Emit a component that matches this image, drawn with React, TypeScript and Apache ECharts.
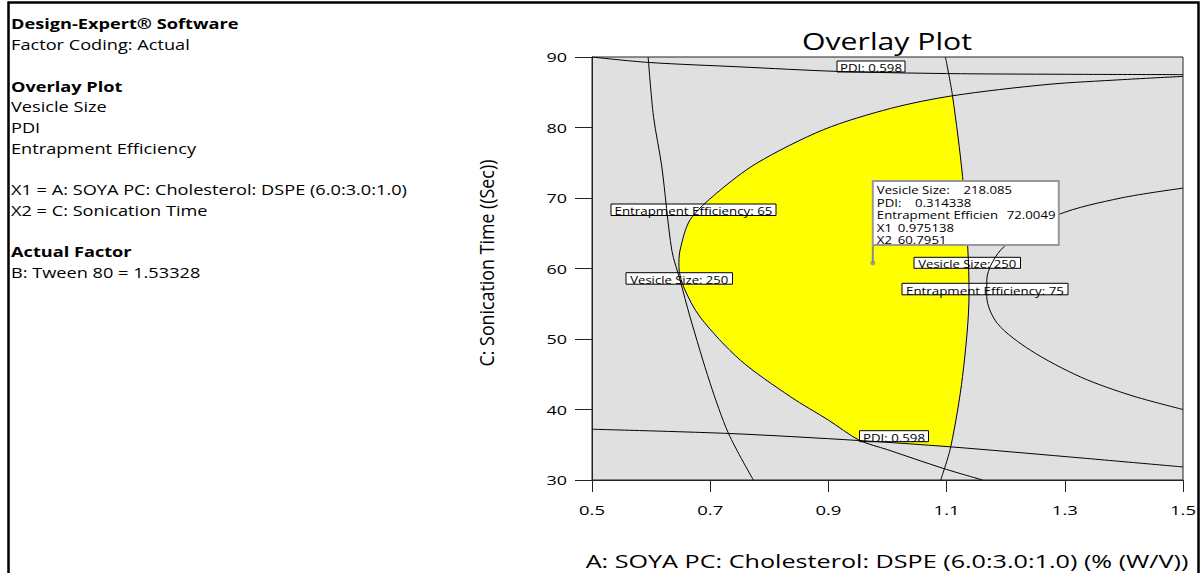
import React, { useEffect, useRef } from "react";
import * as echarts from "echarts";

// ---- data ----
const xTickValues = [0.5, 0.7, 0.9, 1.1, 1.3, 1.5];
const xTickLabels = ["0.5", "0.7", "0.9", "1.1", "1.3", "1.5"];
const yTickValues = [30, 40, 50, 60, 70, 80, 90];
const yTickLabels = ["30", "40", "50", "60", "70", "80", "90"];
const pdiTopContour = [[0.5, 90], [0.595, 89.23], [0.75, 88.6], [0.915, 87.96], [1.1, 87.65], [1.3, 87.55], [1.5, 87.5]];
const pdiBottomContour = [[0.5, 37.2], [0.731, 36.6], [0.952, 35.6], [1.107, 34.7], [1.304, 33.3], [1.5, 31.85]];
const vesicleLeftContour = [[0.595, 90], [0.604, 81.6], [0.618, 74.5], [0.635, 62.6], [0.649, 58.35], [0.666, 53.1], [0.7, 43.7], [0.731, 36.6], [0.773, 30]];
const vesicleRightContour = [[1.098, 90], [1.11, 84.5], [1.127, 73.05], [1.136, 62.6], [1.138, 56.5], [1.127, 44.7], [1.107, 34.7], [1.09, 30]];
const ee65Contour = [[1.5, 87.25], [1.4, 86.8], [1.27, 86.1], [1.11, 84.5], [1.005, 82.7], [0.892, 79.7], [0.779, 74.95], [0.711, 70.7], [0.666, 66.9], [0.649, 62.6], [0.647, 60.3], [0.655, 57.4], [0.683, 53.1], [0.751, 47.0], [0.836, 41.8], [0.9, 38.5], [0.952, 35.65], [1.0, 34.3], [1.096, 31.6], [1.161, 30]];
const ee75Contour = [[1.5, 71.4], [1.395, 70.0], [1.288, 67.6], [1.197, 63.1], [1.168, 58.35], [1.168, 56.0], [1.186, 52.2], [1.242, 48.4], [1.327, 44.6], [1.412, 42.0], [1.5, 40.0]];
const feasibleRegion = [[1.11, 84.5], [1.005, 82.7], [0.892, 79.7], [0.779, 74.95], [0.711, 70.7], [0.666, 66.9], [0.649, 62.6], [0.647, 60.3], [0.655, 57.4], [0.683, 53.1], [0.751, 47.0], [0.836, 41.8], [0.9, 38.5], [0.952, 35.65], [1.107, 34.7], [1.127, 44.7], [1.138, 56.5], [1.136, 62.6], [1.127, 73.05]];
const flagPoint = [0.975138, 60.7951];
const flagLabels = ["Vesicle Size:", "PDI:", "Entrapment Efficien", "X1", "X2"];
const flagValues = ["218.085", "0.314338", "72.0049", "0.975138", "60.7951"];
const contourLabelTexts = ["PDI: 0.598", "PDI: 0.598", "Entrapment Efficiency: 65", "Vesicle Size: 250", "Vesicle Size: 250", "Entrapment Efficiency: 75"];
const infoLines = ["Design-Expert® Software", "Factor Coding: Actual", "", "Overlay Plot", "Vesicle Size", "PDI", "Entrapment Efficiency", "", "X1 = A: SOYA PC: Cholesterol: DSPE (6.0:3.0:1.0)", "X2 = C: Sonication Time", "", "Actual Factor", "B: Tween 80 = 1.53328"];
const boldInfo = [0, 3, 11];
const titleText = "Overlay Plot";
const xAxisName = "A: SOYA PC: Cholesterol: DSPE (6.0:3.0:1.0) (% (W/V))";
const yAxisName = "C: Sonication Time ((Sec))";

// ---- layout (pixels) ----
const contourLabelBoxes = [
  [837, 61, 68, 11],
  [859.5, 430.7, 69, 11],
  [611, 204, 165, 11.5],
  [626, 272.7, 106.5, 11.5],
  [914, 257.3, 106.5, 11],
  [902, 283.3, 166, 11.5],
];
const contourLabelTextWidths = [62, 62, 158, 98, 98, 158];
const flagValueOffsets = [90.6, 42.3, 134, 25, 25];

const FAMILY = "Open Sans";
const FONT = "'Open Sans', 'Noto Sans', sans-serif";

let measureCtx: CanvasRenderingContext2D | null = null;
function measure(text: string, size: number, weight = "normal") {
  if (!measureCtx) measureCtx = document.createElement("canvas").getContext("2d");
  if (!measureCtx) return text.length * size * 0.55;
  measureCtx.font = `${weight} ${size}px "${FAMILY}"`;
  return measureCtx.measureText(text).width || text.length * size * 0.55;
}

export default function App() {
  const ref = useRef<HTMLDivElement>(null);
  useEffect(() => {
    if (!ref.current) return;
    const chart = echarts.init(ref.current, null, { renderer: "svg" });
    const contourLine = (data: number[][]) => ({
      type: "line",
      data,
      showSymbol: false,
      symbol: "none",
      smooth: 0.3,
      silent: true,
      z: 4,
      lineStyle: { color: "#000", width: 1 },
    });
    chart.setOption({
      animation: false,
      grid: {
        left: 592,
        top: 57,
        width: 591,
        height: 423,
        show: true,
        backgroundColor: "#e0e0e0",
        borderColor: "#222",
        borderWidth: 1,
      },
      xAxis: {
        type: "value",
        min: 0.5,
        max: 1.5,
        interval: 0.2,
        axisLine: { lineStyle: { color: "#222", width: 1 } },
        axisTick: { length: 12, lineStyle: { color: "#222" } },
        axisLabel: { show: false },
        splitLine: { show: false },
      },
      yAxis: {
        type: "value",
        min: 30,
        max: 90,
        interval: 10,
        axisLine: { lineStyle: { color: "#222", width: 1 } },
        axisTick: { length: 17, lineStyle: { color: "#222" } },
        axisLabel: { show: false },
        splitLine: { show: false },
      },
      series: [
        {
          type: "custom",
          z: 1,
          silent: true,
          data: [[1, 60]],
          renderItem: (params: any, api: any) => ({
            type: "polygon",
            shape: { points: feasibleRegion.map((p) => api.coord(p)) },
            style: { fill: "#ffff00", stroke: "none" },
          }),
        },
        contourLine(pdiTopContour),
        contourLine(pdiBottomContour),
        contourLine(vesicleLeftContour),
        contourLine(vesicleRightContour),
        contourLine(ee65Contour),
        contourLine(ee75Contour),
        {
          type: "scatter",
          data: [flagPoint],
          symbolSize: 5,
          z: 10,
          itemStyle: { color: "#8a8a8a" },
          silent: true,
        },
      ],
    });

    const toPx = (v: number[]) => chart.convertToPixel({ gridIndex: 0 }, v) as number[];
    const p = toPx(flagPoint);
    const boxW = 186;
    const boxH = 64;
    const boxX = p[0];
    const boxY = p[1] - 18 - boxH;

    const txt = (x: number, y: number, text: string, size: number, align: string, sx: number, extra: any = {}) => ({
      type: "text",
      x,
      y,
      scaleX: sx,
      z: extra.z ?? 5,
      rotation: extra.rotation ?? 0,
      scaleY: extra.scaleY ?? 1,
      style: {
        text,
        fontSize: size,
        fontWeight: extra.weight ?? "normal",
        fill: "#000",
        fontFamily: FONT,
        textAlign: align,
        textVerticalAlign: "middle",
      },
    });

    const graphics: any[] = [];
    // outer frame
    graphics.push({ type: "rect", z: 0, shape: { x: 8.5, y: 2.5, width: 1190, height: 620 }, style: { fill: "none", stroke: "#000", lineWidth: 2.5 } });
    // info panel
    const infoScale = 396 / measure(infoLines[8], 14);
    infoLines.forEach((t, i) => {
      if (!t) return;
      const bold = boldInfo.includes(i);
      graphics.push(txt(11, 24.3 + i * 20.7, t, 14, "left", infoScale, { weight: bold ? "bold" : "normal" }));
    });
    // title
    graphics.push(txt(887, 41, titleText, 23, "center", 170 / measure(titleText, 23)));
    // axis names
    graphics.push(txt(887, 561, xAxisName, 16.5, "center", 603 / measure(xAxisName, 16.5), { scaleY: 1.05 }));
    graphics.push(txt(486, 263, yAxisName, 17, "center", 207 / measure(yAxisName, 17), { rotation: Math.PI / 2, scaleY: 1.15 }));
    // tick labels
    const xLabScale = 26 / measure("0.5", 13.5);
    xTickValues.forEach((v, i) => {
      const q = toPx([v, 30]);
      graphics.push(txt(q[0], 510, xTickLabels[i], 13.5, "center", xLabScale));
    });
    const yLabScale = 20.5 / measure("80", 13.5);
    yTickValues.forEach((v, i) => {
      const q = toPx([0.5, v]);
      graphics.push(txt(567, q[1], yTickLabels[i], 13.5, "right", yLabScale));
    });
    // contour labels
    contourLabelTexts.forEach((t, i) => {
      const [x, y, w, h] = contourLabelBoxes[i];
      graphics.push({ type: "rect", z: 2, shape: { x, y, width: w, height: h }, style: { fill: "#fff", stroke: "#000", lineWidth: 1 } });
      graphics.push(txt(x + w / 2, y + h / 2 + 1.5, t, 11, "center", contourLabelTextWidths[i] / measure(t, 11), { z: 2 }));
    });
    // flag annotation
    graphics.push({ type: "line", z: 20, shape: { x1: p[0], y1: boxY + boxH, x2: p[0], y2: p[1] }, style: { stroke: "#8a8a8a", lineWidth: 2 } });
    graphics.push({ type: "rect", z: 20, shape: { x: boxX, y: boxY, width: boxW, height: boxH }, style: { fill: "#fff", stroke: "#999", lineWidth: 2 } });
    const flagScale = 73 / measure(flagLabels[0], 10.5);
    flagLabels.forEach((t, i) => {
      const yy = boxY + 8.8 + i * 12.5;
      graphics.push(txt(boxX + 4, yy, t, 10.5, "left", flagScale, { z: 21 }));
      graphics.push(txt(boxX + flagValueOffsets[i], yy, flagValues[i], 10.5, "left", flagScale, { z: 21 }));
    });
    chart.setOption({ graphic: graphics });

    return () => chart.dispose();
  }, []);
  return <div ref={ref} style={{ position: "absolute", left: 0, top: 0, width: 1203, height: 573, background: "#fff" }} />;
}
